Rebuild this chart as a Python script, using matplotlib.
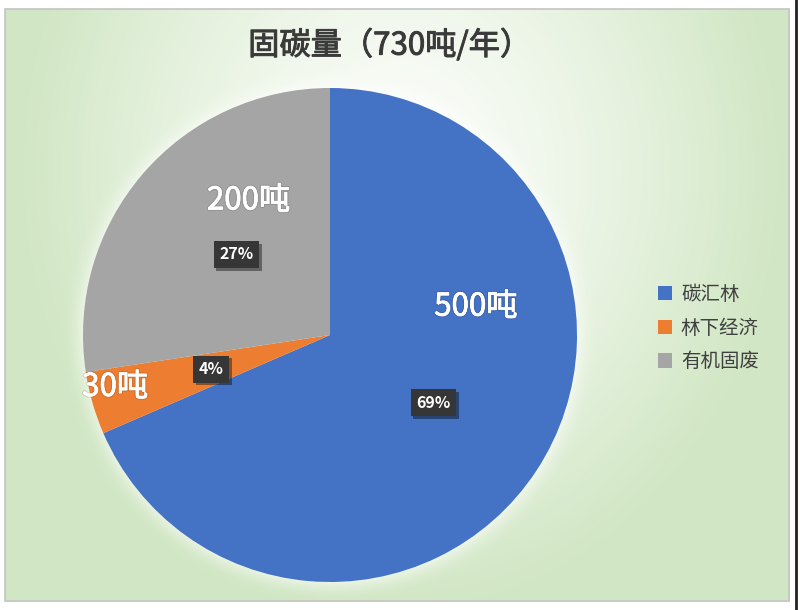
import numpy as np
import matplotlib
matplotlib.use("Agg")
import matplotlib.pyplot as plt
import matplotlib.patheffects as pe
from matplotlib.patches import Patch, Rectangle

plt.rcParams['font.family'] = ['Noto Sans CJK SC', 'DejaVu Sans']

# data
categories = ["碳汇林", "林下经济", "有机固废"]
values = [500, 30, 200]
value_labels = ["500吨", "30吨", "200吨"]
pct_labels = ["69%", "4%", "27%"]
colors = ["#4472C4", "#ED7D31", "#A5A5A5"]
title = "固碳量（730吨/年）"

# where the value labels sit (pie data coords, radius 1)
value_pos = [(0.59, 0.115), (-0.87, -0.21), (-0.33, 0.545)]

W, H = 800, 610
fig = plt.figure(figsize=(8, 6.1), dpi=100)

# background: white centre fading to pale green, soft white glow round the pie
yy, xx = np.mgrid[0:H, 0:W].astype(float)
t = np.sqrt(((xx - 400) / 380) ** 2 + ((yy - 170) / 440) ** 2)
t = np.clip(t, 0, 1) ** 1.3
white = np.array([0.99, 0.995, 0.985])
green = np.array([0.82, 0.905, 0.77])
img = white + (green - white) * t[..., None]
pcx, pcy, R = 330, 335, 247
d = np.sqrt((xx - pcx) ** 2 + (yy - pcy) ** 2)
glow = np.clip(1 - (d - R) / 22, 0, 1) ** 2
img = img + (np.ones(3) - img) * glow[..., None] * 0.5
inside = (xx >= 5) & (xx <= 789) & (yy >= 9) & (yy <= 601)
img[~inside] = 1.0

bg = fig.add_axes([0, 0, 1, 1])
bg.imshow(img, extent=(0, W, H, 0), aspect="auto", zorder=0)
bg.add_patch(Rectangle((5, 9), 784, 592, fill=False, ec="#c4c4c4", lw=1.2))
bg.plot([796, 796], [0, H], color="#222222", lw=2)
bg.set_xlim(0, W)
bg.set_ylim(H, 0)
bg.axis("off")

# pie
ax = fig.add_axes([(pcx - R) / W, (H - pcy - R) / H, 2 * R / W, 2 * R / H])
wedges, texts, autotexts = ax.pie(values, colors=colors, startangle=90, counterclock=False,
                                  autopct="%1.0f%%", pctdistance=0.5,
                                  wedgeprops=dict(linewidth=0))
for at, lab in zip(autotexts, pct_labels):
    at.set_text(lab)
    at.set_color("white")
    at.set_fontsize(11.5)
    at.set_fontweight("bold")
    at.set_bbox(dict(boxstyle="square,pad=0.35", fc="#363636", ec="none"))
    at.get_bbox_patch().set_path_effects(
        [pe.withSimplePatchShadow(offset=(2, -2), shadow_rgbFace="k", alpha=0.4)])

# regular weight thickened a little by a same-colour stroke (medium look)
for lab, (x, y) in zip(value_labels, value_pos):
    ax.text(x, y, lab, color="white", fontsize=22.5,
            ha="center", va="center",
            path_effects=[pe.withStroke(linewidth=2.0, foreground=(0, 0, 0, 0.12)),
                          pe.withStroke(linewidth=0.6, foreground="white")])

ax.set_xlim(-1, 1)
ax.set_ylim(-1, 1)
ax.set_aspect("auto")
ax.axis("off")

fig.text(0.487, 1 - 45 / H, title, ha="center", va="center",
         fontsize=22.5, color="#3a3a3a",
         path_effects=[pe.withStroke(linewidth=0.7, foreground="#3a3a3a")])

handles = [Patch(fc=c, ec="none") for c in colors]
fig.legend(handles, categories, loc="center left", bbox_to_anchor=(0.822, 0.462),
           frameon=False, fontsize=14, handlelength=0.75, handleheight=0.75,
           handletextpad=0.45, labelspacing=0.65, borderpad=0, borderaxespad=0,
           labelcolor="#404040")

fig.savefig("out.png", dpi=100)
